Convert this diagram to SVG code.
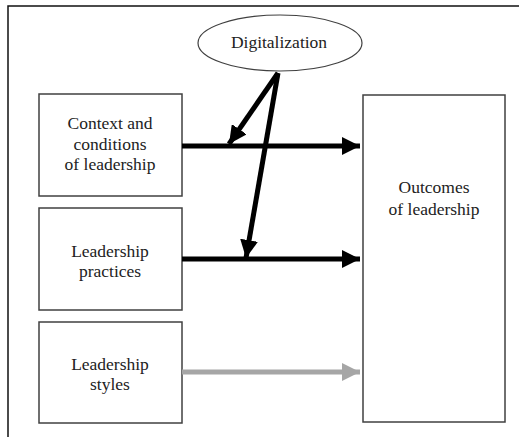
<svg xmlns="http://www.w3.org/2000/svg" width="525" height="437" viewBox="0 0 525 437">
<style>
.box{fill:#fff;stroke:#404040;stroke-width:1.5}
.t{font-family:'Liberation Serif','DejaVu Serif',serif;font-size:17.5px;fill:#222;text-anchor:middle}
.blk{stroke:#000;stroke-width:5;fill:none}
.gry{stroke:#a6a6a6;stroke-width:5;fill:none}
</style>
<defs>
<marker id="ab" markerUnits="userSpaceOnUse" markerWidth="20" markerHeight="18" refX="18" refY="9" orient="auto"><path d="M0,0 L18,9 L0,18 Z" fill="#000"/></marker>
<marker id="ag" markerUnits="userSpaceOnUse" markerWidth="20" markerHeight="18" refX="18" refY="9" orient="auto"><path d="M0,0 L18,9 L0,18 Z" fill="#a6a6a6"/></marker>
</defs>
<rect width="525" height="437" fill="#fff"/>
<path d="M8,437 L8,6 L519,6" fill="none" stroke="#111" stroke-width="1.5"/>
<g id="digitalization">
<ellipse cx="280" cy="43" rx="82" ry="28" fill="#fff" stroke="#404040" stroke-width="1.2"/>
<text class="t" x="279" y="48">Digitalization</text>
</g>
<g id="context">
<rect class="box" x="39" y="94" width="143" height="102"/>
<text class="t" x="110" y="129">Context and</text>
<text class="t" x="110" y="150">conditions</text>
<text class="t" x="110" y="170">of leadership</text>
</g>
<g id="practices">
<rect class="box" x="39" y="208" width="143" height="102"/>
<text class="t" x="110" y="257">Leadership</text>
<text class="t" x="110" y="277">practices</text>
</g>
<g id="styles">
<rect class="box" x="39" y="322" width="143" height="101"/>
<text class="t" x="110" y="370">Leadership</text>
<text class="t" x="110" y="390">styles</text>
</g>
<g id="outcomes">
<rect class="box" x="363" y="95" width="142" height="327"/>
<text class="t" x="434" y="193">Outcomes</text>
<text class="t" x="434" y="215">of leadership</text>
</g>
<g id="connectors">
<line class="blk" x1="182" y1="146" x2="360" y2="146" marker-end="url(#ab)"/>
<line class="blk" x1="182" y1="259" x2="360" y2="259" marker-end="url(#ab)"/>
<line class="gry" x1="182" y1="372" x2="360" y2="372" marker-end="url(#ag)"/>
<line class="blk" x1="278" y1="73" x2="229" y2="144" marker-end="url(#ab)"/>
<line class="blk" x1="278" y1="73" x2="246" y2="258" marker-end="url(#ab)"/>
</g>
</svg>
